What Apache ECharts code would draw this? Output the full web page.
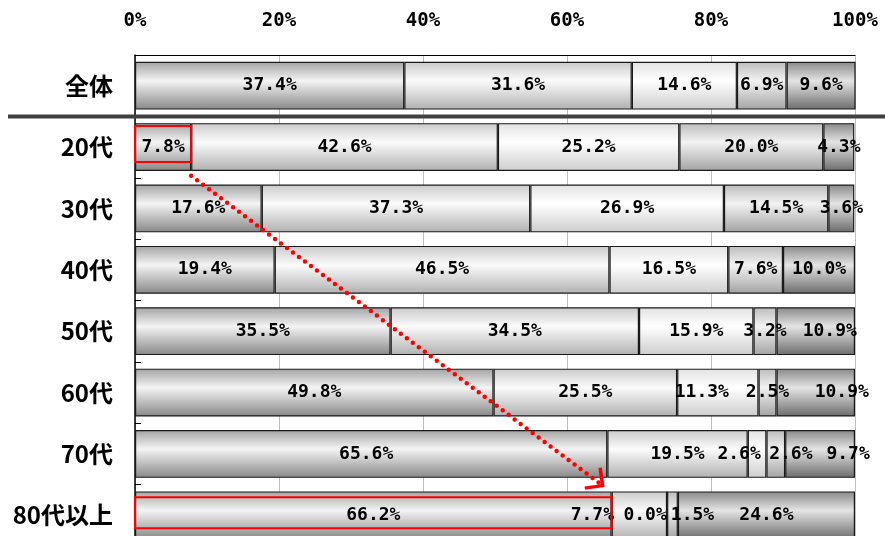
<!DOCTYPE html>
<html lang="ja">
<head>
<meta charset="utf-8">
<title>年代別</title>
<script src="https://cdn.jsdelivr.net/npm/echarts@6/dist/echarts.min.js"></script>
<style>
  html, body { margin: 0; padding: 0; background: #fff; }
  #chart { width: 885px; height: 536px; }
</style>
</head>
<body>
<div id="chart"></div>
<script>
// 区分（上から順）
const categories = ['全体', '20代', '30代', '40代', '50代', '60代', '70代', '80代以上'];

// 各区分の構成比（%）
const seg1 = [37.4, 7.8, 17.6, 19.4, 35.5, 49.8, 65.6, 66.2];
const seg2 = [31.6, 42.6, 37.3, 46.5, 34.5, 25.5, 19.5, 7.7];
const seg3 = [14.6, 25.2, 26.9, 16.5, 15.9, 11.3, 2.6, 0.0];
const seg4 = [6.9, 20.0, 14.5, 7.6, 3.2, 2.5, 2.6, 1.5];
const seg5 = [9.6, 4.3, 3.6, 10.0, 10.9, 10.9, 9.7, 24.6];

// x軸目盛
const xMin = 0, xMax = 100, xStep = 20;

// 元の図でずらされているラベル（px）
const labelShift = [
  [0, 0, 0, 0, 0, 0, -5, 0],
  [0, 0, 0, 0, 0, 0, 0, -47],
  [0, 0, 0, 0, 0, -16, -18, -22],
  [0, 0, 0, 0, 0, 0, 15, 20],
  [0, 0, 0, 0, 14, 26, 28, 0]
];

// 棒の濃淡（上端・中央・下端）
const shades = [
  ['#a3a3a3', '#f4f4f4', '#878787'],
  ['#cacaca', '#fbfbfb', '#b0b0b0'],
  ['#e2e2e2', '#ffffff', '#cdcdcd'],
  ['#bcbcbc', '#f2f2f2', '#a3a3a3'],
  ['#888888', '#e4e4e4', '#6c6c6c']
];

const grad = c => new echarts.graphic.LinearGradient(0, 0, 0, 1, [
  { offset: 0, color: c[0] },
  { offset: 0.4, color: c[1] },
  { offset: 1, color: c[2] }
]);

const chart = echarts.init(document.getElementById('chart'));

const segments = [seg1, seg2, seg3, seg4, seg5];

const series = segments.map((vals, s) => ({
  name: '項目' + (s + 1),
  type: 'bar',
  stack: 'total',
  barCategoryGap: '22%',
  itemStyle: {
    color: grad(shades[s]),
    borderColor: '#1a1a1a',
    borderWidth: 1.2
  },
  label: {
    show: true,
    position: 'inside',
    color: '#000',
    fontSize: 18,
    fontWeight: 'bold',
    fontFamily: 'DejaVu Sans Mono',
    formatter: p => p.value.toFixed(1) + '%'
  },
  data: vals.map((v, i) => ({
    value: v,
    label: { offset: [labelShift[s][i], 0] }
  }))
}));

chart.setOption({
  backgroundColor: '#fff',
  animation: false,
  grid: {
    left: 135,
    right: 30,
    top: 55,
    bottom: -10,
    outerBoundsMode: 'none'
  },
  xAxis: {
    type: 'value',
    position: 'top',
    min: xMin,
    max: xMax,
    interval: xStep,
    axisLine: { show: true, lineStyle: { color: '#000', width: 1 } },
    axisTick: { show: false },
    axisLabel: {
      margin: 24,
      color: '#000',
      fontSize: 19,
      fontWeight: 'bold',
      fontFamily: 'DejaVu Sans Mono',
      formatter: '{value}%'
    },
    splitLine: { show: true, lineStyle: { color: '#bfbfbf', width: 1 } }
  },
  yAxis: {
    type: 'category',
    inverse: true,
    data: categories,
    axisLine: { show: true, lineStyle: { color: '#000', width: 1.5 } },
    axisTick: { show: true, inside: true, length: 6, lineStyle: { color: '#000' } },
    axisLabel: {
      margin: 22,
      color: '#000',
      fontSize: 24,
      fontWeight: 'bold',
      fontFamily: 'Noto Sans CJK JP'
    }
  },
  series: series
});

// 注記（赤枠・点線矢印）と区切り線
const px = (v, i) => chart.convertToPixel({ gridIndex: 0 }, [v, i]);
const rowY = i => px(0, i)[1];
const between = (a, b) => (rowY(a) + rowY(b)) / 2;

const x0 = px(0, 1)[0];
const box1R = px(seg1[1], 1)[0];
const box2R = px(seg1[7], 7)[0];

const start = [box1R, between(1, 2) - 2];
const tip = [box2R - 9, between(6, 7) + 1];
const ang = Math.atan2(tip[1] - start[1], tip[0] - start[0]);
const arm = (d) => [
  tip[0] - 18 * Math.cos(ang + d),
  tip[1] - 18 * Math.sin(ang + d)
];

chart.setOption({
  graphic: [
    {
      type: 'line', z: 100,
      shape: { x1: 8, y1: between(0, 1), x2: 885, y2: between(0, 1) },
      style: { stroke: '#404040', lineWidth: 4 }
    },
    {
      type: 'rect', z: 100,
      shape: { x: x0, y: rowY(1) - 21, width: box1R - x0, height: 36 },
      style: { fill: null, stroke: '#ff0000', lineWidth: 2 }
    },
    {
      type: 'rect', z: 100,
      shape: { x: x0, y: rowY(7) - 18, width: box2R - x0, height: 31 },
      style: { fill: null, stroke: '#ff0000', lineWidth: 2 }
    },
    {
      type: 'line', z: 100,
      shape: { x1: start[0], y1: start[1], x2: tip[0], y2: tip[1] },
      style: { stroke: '#ff0000', lineWidth: 4.5, lineDash: [0, 7.5], lineCap: 'round' }
    },
    {
      type: 'polyline', z: 100,
      shape: { points: [arm(Math.PI / 4), tip, arm(-Math.PI / 4)] },
      style: { stroke: '#ff0000', lineWidth: 3.5, fill: null }
    }
  ]
});

window.addEventListener('resize', () => chart.resize());
</script>
</body>
</html>
